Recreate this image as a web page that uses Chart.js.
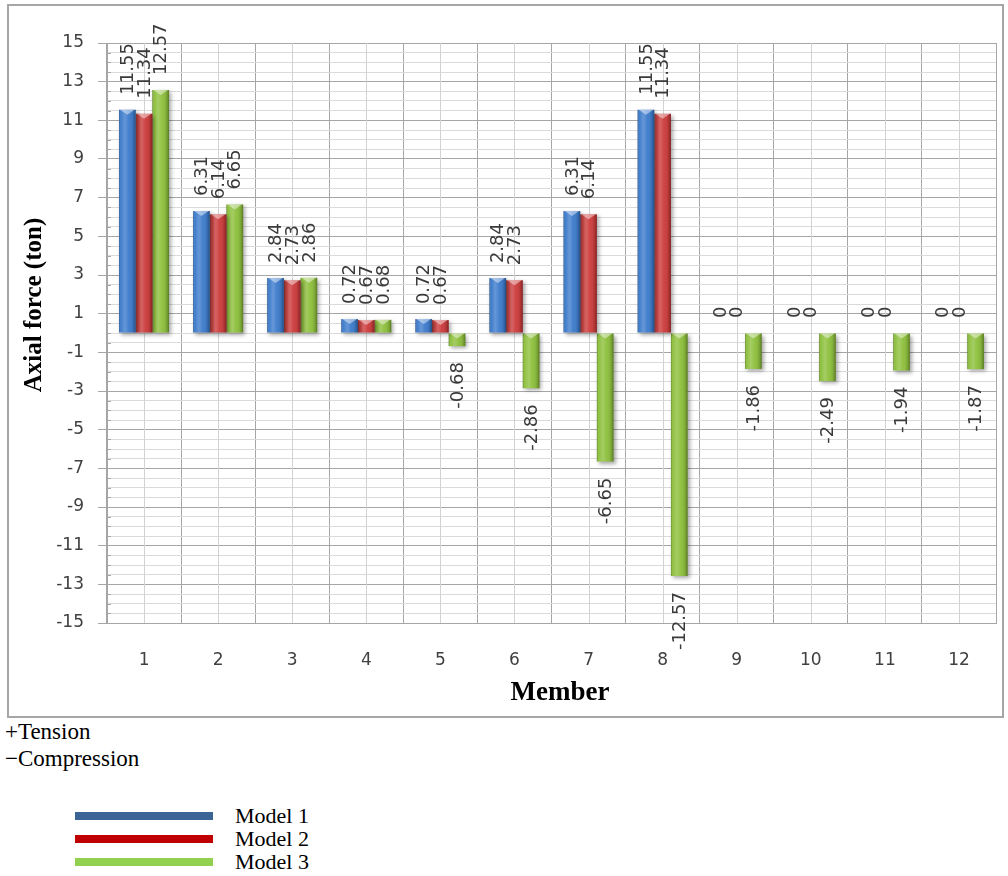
<!DOCTYPE html>
<html>
<head>
<meta charset="utf-8">
<title>Axial force per member</title>
<script src="https://cdn.jsdelivr.net/npm/chart.js@4.4.1/dist/chart.umd.min.js"></script>
<style>
  html, body { margin: 0; padding: 0; background: #fff; }
  body { width: 1008px; height: 876px; position: relative; overflow: hidden;
         font-family: "Liberation Serif", "Times New Roman", serif; color: #000; }
  #frame { position: absolute; left: 7px; top: 4px; width: 993px; height: 710px;
           border: 2px solid #a6a6a6; }
  #frame canvas { display: block; }
  .note { position: absolute; left: 5px; font-size: 23px; line-height: 26px; white-space: nowrap; }
  #legend { position: absolute; left: 75px; top: 804px; }
  .item { position: relative; height: 23px; width: 260px; }
  .item .swatch { position: absolute; left: 0; top: 8px; width: 138px; height: 8px; }
  .item .lbl { position: absolute; left: 160px; top: -1px; font-size: 22px; line-height: 25px; white-space: nowrap; }
</style>
</head>
<body>
<div id="frame"><canvas id="chart" width="993" height="710"></canvas></div>
<div class="note" style="top:719px">+Tension</div>
<div class="note" style="top:746px">&minus;Compression</div>
<div id="legend"></div>

<script>
// Members along the horizontal axis
const members = ['1', '2', '3', '4', '5', '6', '7', '8', '9', '10', '11', '12'];

// Axial force (ton) per member for each model
const model1 = [11.55, 6.31, 2.84, 0.72, 0.72, 2.84, 6.31, 11.55, 0, 0, 0, 0];
const model2 = [11.34, 6.14, 2.73, 0.67, 0.67, 2.73, 6.14, 11.34, 0, 0, 0, 0];
const model3 = [12.57, 6.65, 2.86, 0.68, -0.68, -2.86, -6.65, -12.57, -1.86, -2.49, -1.94, -1.87];

const seriesNames = ['Model 1', 'Model 2', 'Model 3'];

// Labelled values on the force axis
const yTickLabels = [15, 13, 11, 9, 7, 5, 3, 1, -1, -3, -5, -7, -9, -11, -13, -15];

// Colours
const barColors = ['#3b7acb', '#cc3a3a', '#8cbf3a'];
const legendColors = ['#3a6496', '#c00000', '#92d050'];
const GRID_MAJOR = '#a6a6a6';
const GRID_MINOR = '#dadada';
const GRID_CENTER = '#d2d2d2';

const isMajor = v => yTickLabels.includes(Math.round(v * 100) / 100);

// Column centre lines and inward minor ticks on the value axis
const gridExtras = {
  id: 'gridExtras',
  beforeDatasetsDraw(chart) {
    const { ctx, chartArea, scales } = chart;
    const xs = scales.x, ys = scales.y;
    ctx.save();
    ctx.lineWidth = 1;
    ctx.strokeStyle = GRID_CENTER;
    members.forEach((m, i) => {
      const px = Math.round(xs.getPixelForValue(i)) + 0.5;
      ctx.beginPath();
      ctx.moveTo(px, chartArea.top);
      ctx.lineTo(px, chartArea.bottom);
      ctx.stroke();
    });
    ctx.strokeStyle = GRID_MAJOR;
    ys.ticks.forEach(t => {
      if (isMajor(t.value)) return;
      const py = Math.round(ys.getPixelForValue(t.value)) + 0.5;
      ctx.beginPath();
      ctx.moveTo(chartArea.left, py);
      ctx.lineTo(chartArea.left + 4, py);
      ctx.stroke();
    });
    ctx.restore();
  }
};

// Soft shadow plus a rounded shading and a light cap on every bar
const barShading = {
  id: 'barShading',
  beforeDatasetDraw(chart) {
    const ctx = chart.ctx;
    ctx.save();
    ctx.shadowColor = 'rgba(0,0,0,0.35)';
    ctx.shadowBlur = 4;
    ctx.shadowOffsetX = 2;
    ctx.shadowOffsetY = 2;
  },
  afterDatasetDraw(chart, args) {
    const ctx = chart.ctx;
    ctx.restore();
    ctx.save();
    args.meta.data.forEach(bar => {
      const { x, y, base, width } = bar.getProps(['x', 'y', 'base', 'width'], true);
      const top = Math.min(y, base), bottom = Math.max(y, base);
      const h = bottom - top;
      if (h < 0.5) return;
      const l = x - width / 2, r = x + width / 2;
      const g = ctx.createLinearGradient(l, 0, r, 0);
      g.addColorStop(0, 'rgba(0,0,0,0.30)');
      g.addColorStop(0.12, 'rgba(255,255,255,0.04)');
      g.addColorStop(0.35, 'rgba(255,255,255,0.22)');
      g.addColorStop(0.6, 'rgba(255,255,255,0.04)');
      g.addColorStop(0.88, 'rgba(0,0,0,0.16)');
      g.addColorStop(1, 'rgba(0,0,0,0.36)');
      ctx.fillStyle = g;
      ctx.fillRect(l, top, width, h);
      const d = Math.min(5, h);
      ctx.beginPath();
      ctx.moveTo(l + 1, top);
      ctx.lineTo(r - 1, top);
      ctx.lineTo(x, top + d);
      ctx.closePath();
      ctx.fillStyle = 'rgba(255,255,255,0.45)';
      ctx.fill();
    });
    ctx.restore();
  }
};

// Vertical value labels at the outer end of each bar, plus the axis titles
const valueLabels = {
  id: 'valueLabels',
  afterDatasetsDraw(chart) {
    const ctx = chart.ctx;
    ctx.save();
    ctx.font = '18px "DejaVu Sans", sans-serif';
    ctx.fillStyle = '#3a3a3a';
    ctx.textBaseline = 'middle';
    chart.data.datasets.forEach((ds, di) => {
      const meta = chart.getDatasetMeta(di);
      meta.data.forEach((bar, i) => {
        const v = ds.data[i];
        if (v === null || v === undefined) return;
        const { x, y } = bar.getProps(['x', 'y'], true);
        ctx.save();
        ctx.translate(x + 1, v >= 0 ? y - 15 : y + 16);
        ctx.rotate(-Math.PI / 2);
        ctx.textAlign = v >= 0 ? 'left' : 'right';
        ctx.fillText(String(v), 0, 0);
        ctx.restore();
      });
    });
    ctx.restore();
  },
  afterDraw(chart) {
    const ctx = chart.ctx;
    ctx.save();
    ctx.fillStyle = '#000';
    ctx.textAlign = 'center';
    ctx.textBaseline = 'middle';
    ctx.font = 'bold 25px "Liberation Serif", "Times New Roman", serif';
    ctx.translate(26, 299);
    ctx.rotate(-Math.PI / 2);
    ctx.fillText('Axial force (ton)', 0, 0);
    ctx.restore();
    ctx.save();
    ctx.fillStyle = '#000';
    ctx.textAlign = 'center';
    ctx.textBaseline = 'middle';
    ctx.font = 'bold 27px "Liberation Serif", "Times New Roman", serif';
    ctx.fillText('Member', 551, 687);
    ctx.restore();
  }
};

const seriesData = [model1, model2, model3];

new Chart(document.getElementById('chart'), {
  type: 'bar',
  data: {
    labels: members,
    datasets: seriesNames.map((name, k) => ({
      label: name,
      data: seriesData[k],
      backgroundColor: barColors[k],
      borderWidth: 0,
      categoryPercentage: 0.675,
      barPercentage: 1.0
    }))
  },
  options: {
    responsive: false,
    animation: false,
    layout: { padding: { top: 37, right: 6, left: 0, bottom: 0 } },
    plugins: {
      legend: { display: false },
      tooltip: { enabled: false },
      title: { display: false }
    },
    scales: {
      x: {
        offset: true,
        grid: { color: GRID_MAJOR, drawTicks: false, offset: true, lineWidth: 1 },
        border: { color: GRID_MAJOR },
        ticks: {
          font: { family: '"DejaVu Sans", sans-serif', size: 17 },
          color: '#404040',
          padding: 27
        },
        afterFit(scale) { scale.height = 93; }
      },
      y: {
        min: -15,
        max: 15,
        grid: {
          color: c => isMajor(c.tick.value) ? GRID_MAJOR : GRID_MINOR,
          tickColor: c => isMajor(c.tick.value) ? GRID_MAJOR : 'rgba(0,0,0,0)',
          tickLength: 9,
          lineWidth: 1
        },
        border: { color: GRID_MAJOR },
        ticks: {
          stepSize: 0.5,
          autoSkip: false,
          font: { family: '"DejaVu Sans", sans-serif', size: 17 },
          color: '#404040',
          padding: 14,
          callback: v => isMajor(v) ? String(Math.round(v)) : ''
        },
        afterFit(scale) { scale.width = 98; }
      }
    }
  },
  plugins: [gridExtras, barShading, valueLabels]
});

// Legend below the chart frame
const legend = document.getElementById('legend');
seriesNames.forEach((name, k) => {
  const row = document.createElement('div');
  row.className = 'item';
  const sw = document.createElement('div');
  sw.className = 'swatch';
  sw.style.background = legendColors[k];
  const lbl = document.createElement('div');
  lbl.className = 'lbl';
  lbl.textContent = name;
  row.appendChild(sw);
  row.appendChild(lbl);
  legend.appendChild(row);
});
</script>
</body>
</html>
